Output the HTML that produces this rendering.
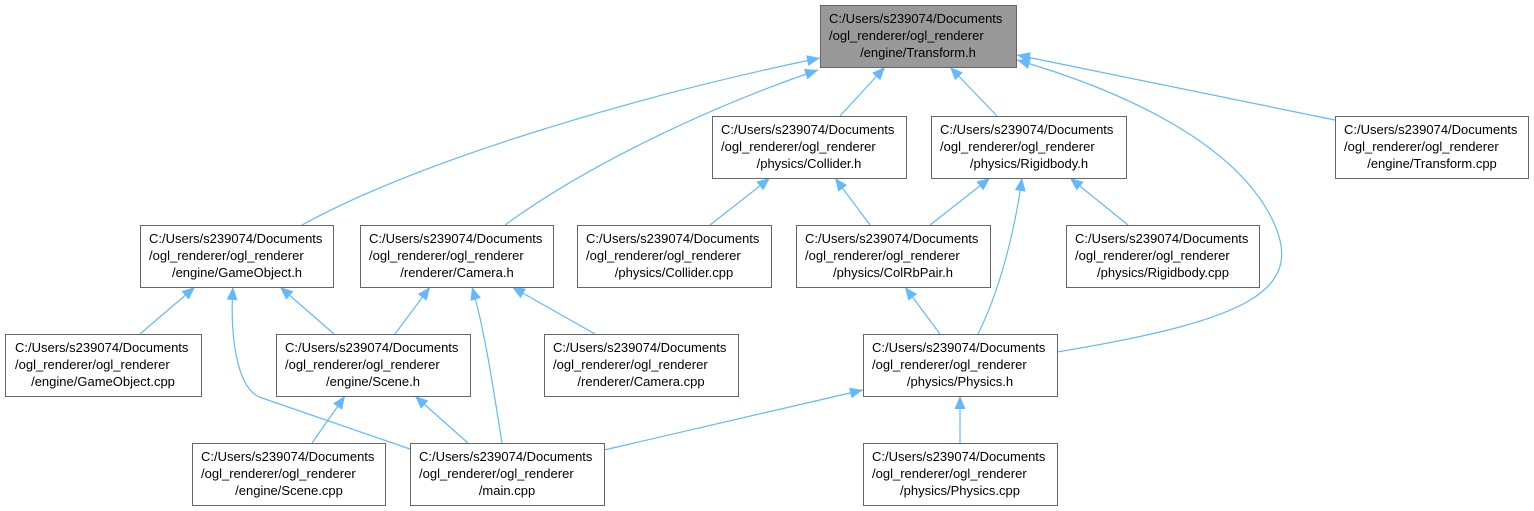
<!DOCTYPE html>
<html><head><meta charset="utf-8"><style>
html,body{margin:0;padding:0;background:#fff;}
svg{display:block}
text{font-family:"Liberation Sans",sans-serif;font-size:13px;fill:#000}
</style></head><body>
<svg width="1534" height="511" viewBox="0 0 1534 511" xmlns="http://www.w3.org/2000/svg">
<defs>
<marker id="a" markerWidth="13" markerHeight="11" refX="13" refY="5.5" orient="auto-start-reverse" markerUnits="userSpaceOnUse" viewBox="0 0 13 11">
<path d="M0,0 L13,5.5 L0,11 Z" fill="#63b8ff"/>
</marker>
</defs>
<g fill="none" stroke="#63b8ff" stroke-width="1.2">
<path marker-start="url(#a)" d="M820,58 C640,95 420,160 302,225"/>
<path marker-start="url(#a)" d="M818,70 C700,110 580,170 505,225"/>
<path marker-start="url(#a)" d="M885,67 L840,116"/>
<path marker-start="url(#a)" d="M950,67 L997,116"/>
<path marker-start="url(#a)" d="M1017,60 C1120,90 1230,140 1270,215 C1310,290 1250,320 1057,352"/>
<path marker-start="url(#a)" d="M1017,55 L1335,120"/>
<path marker-start="url(#a)" d="M770,178 L710,225"/>
<path marker-start="url(#a)" d="M835,178 L870,225"/>
<path marker-start="url(#a)" d="M990,178 L930,225"/>
<path marker-start="url(#a)" d="M1022,178 C1015,230 1000,290 978,334"/>
<path marker-start="url(#a)" d="M1070,178 L1128,225"/>
<path marker-start="url(#a)" d="M905,287 L940,334"/>
<path marker-start="url(#a)" d="M195,287 L140,334"/>
<path marker-start="url(#a)" d="M280,287 L334,334"/>
<path marker-start="url(#a)" d="M233,287 C230,330 235,390 262,398 L410,449"/>
<path marker-start="url(#a)" d="M430,287 L395,334"/>
<path marker-start="url(#a)" d="M472,287 C485,330 495,400 502,443"/>
<path marker-start="url(#a)" d="M512,287 L595,334"/>
<path marker-start="url(#a)" d="M345,396 L312,443"/>
<path marker-start="url(#a)" d="M415,396 L468,443"/>
<path marker-start="url(#a)" d="M863,390 L604,450"/>
<path marker-start="url(#a)" d="M960,396 L960,443"/>
</g>
<g stroke="#666" stroke-width="1" fill="#fff">
<rect x="820.5" y="5.5" width="196" height="62" fill="#999"/>
<rect x="712.5" y="116.5" width="194" height="62"/>
<rect x="931.5" y="116.5" width="195" height="62"/>
<rect x="1335.5" y="116.5" width="193" height="62"/>
<rect x="140.5" y="225.5" width="193" height="62"/>
<rect x="360.5" y="225.5" width="193" height="62"/>
<rect x="577.5" y="225.5" width="194" height="62"/>
<rect x="796.5" y="225.5" width="194" height="62"/>
<rect x="1066.5" y="225.5" width="193" height="62"/>
<rect x="5.5" y="334.5" width="196" height="62"/>
<rect x="276.5" y="334.5" width="194" height="62"/>
<rect x="544.5" y="334.5" width="194" height="62"/>
<rect x="863.5" y="334.5" width="194" height="62"/>
<rect x="192.5" y="443.5" width="193" height="62"/>
<rect x="410.5" y="443.5" width="194" height="62"/>
<rect x="863.5" y="443.5" width="194" height="62"/>
</g>
<g>
<text x="829" y="23">C:/Users/s239074/Documents</text><text x="829" y="40">/ogl_renderer/ogl_renderer</text><text x="918" y="57" text-anchor="middle">/engine/Transform.h</text>
<text x="721" y="134">C:/Users/s239074/Documents</text><text x="721" y="151">/ogl_renderer/ogl_renderer</text><text x="809" y="168" text-anchor="middle">/physics/Collider.h</text>
<text x="940" y="134">C:/Users/s239074/Documents</text><text x="940" y="151">/ogl_renderer/ogl_renderer</text><text x="1029" y="168" text-anchor="middle">/physics/Rigidbody.h</text>
<text x="1344" y="134">C:/Users/s239074/Documents</text><text x="1344" y="151">/ogl_renderer/ogl_renderer</text><text x="1432" y="168" text-anchor="middle">/engine/Transform.cpp</text>
<text x="149" y="243">C:/Users/s239074/Documents</text><text x="149" y="260">/ogl_renderer/ogl_renderer</text><text x="237" y="277" text-anchor="middle">/engine/GameObject.h</text>
<text x="369" y="243">C:/Users/s239074/Documents</text><text x="369" y="260">/ogl_renderer/ogl_renderer</text><text x="457" y="277" text-anchor="middle">/renderer/Camera.h</text>
<text x="586" y="243">C:/Users/s239074/Documents</text><text x="586" y="260">/ogl_renderer/ogl_renderer</text><text x="674" y="277" text-anchor="middle">/physics/Collider.cpp</text>
<text x="805" y="243">C:/Users/s239074/Documents</text><text x="805" y="260">/ogl_renderer/ogl_renderer</text><text x="893" y="277" text-anchor="middle">/physics/ColRbPair.h</text>
<text x="1075" y="243">C:/Users/s239074/Documents</text><text x="1075" y="260">/ogl_renderer/ogl_renderer</text><text x="1163" y="277" text-anchor="middle">/physics/Rigidbody.cpp</text>
<text x="15" y="352">C:/Users/s239074/Documents</text><text x="15" y="369">/ogl_renderer/ogl_renderer</text><text x="103" y="386" text-anchor="middle">/engine/GameObject.cpp</text>
<text x="285" y="352">C:/Users/s239074/Documents</text><text x="285" y="369">/ogl_renderer/ogl_renderer</text><text x="373" y="386" text-anchor="middle">/engine/Scene.h</text>
<text x="553" y="352">C:/Users/s239074/Documents</text><text x="553" y="369">/ogl_renderer/ogl_renderer</text><text x="641" y="386" text-anchor="middle">/renderer/Camera.cpp</text>
<text x="872" y="352">C:/Users/s239074/Documents</text><text x="872" y="369">/ogl_renderer/ogl_renderer</text><text x="960" y="386" text-anchor="middle">/physics/Physics.h</text>
<text x="201" y="461">C:/Users/s239074/Documents</text><text x="201" y="478">/ogl_renderer/ogl_renderer</text><text x="289" y="495" text-anchor="middle">/engine/Scene.cpp</text>
<text x="419" y="461">C:/Users/s239074/Documents</text><text x="419" y="478">/ogl_renderer/ogl_renderer</text><text x="507" y="495" text-anchor="middle">/main.cpp</text>
<text x="872" y="461">C:/Users/s239074/Documents</text><text x="872" y="478">/ogl_renderer/ogl_renderer</text><text x="960" y="495" text-anchor="middle">/physics/Physics.cpp</text>
</g>
</svg>
</body></html>
